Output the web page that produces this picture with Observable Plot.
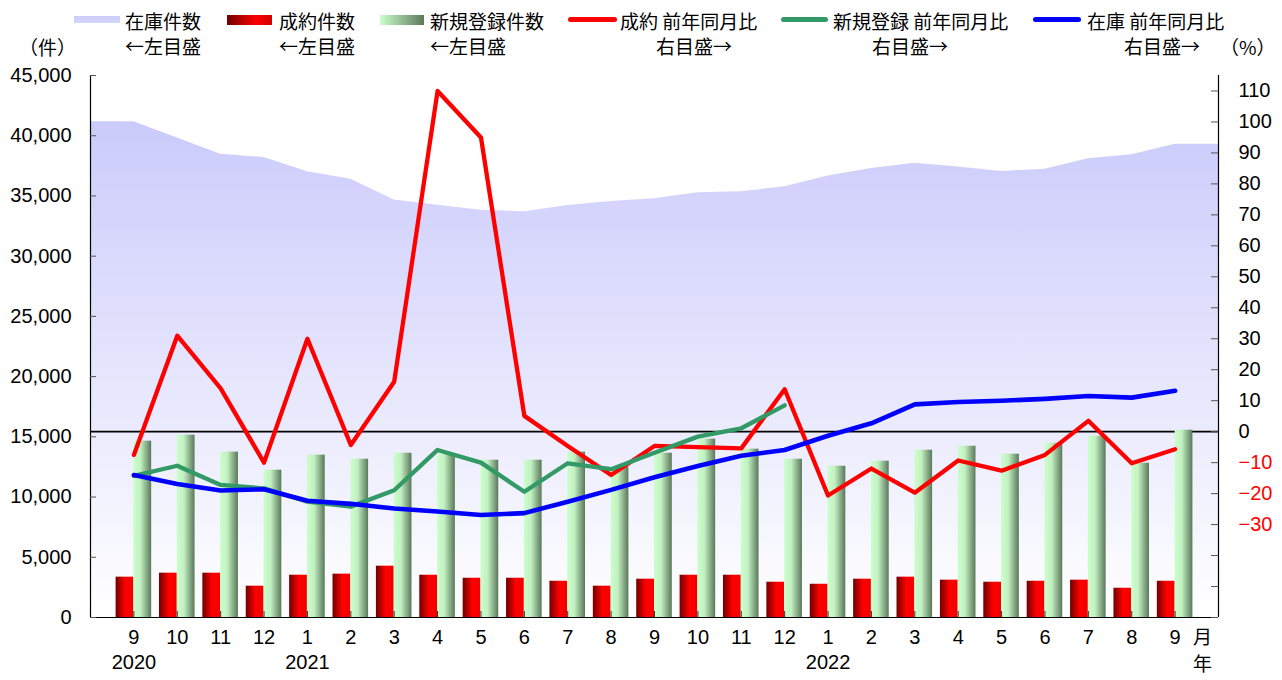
<!DOCTYPE html>
<html><head><meta charset="utf-8">
<script src="https://cdn.jsdelivr.net/npm/d3@7"></script>
<script src="https://cdn.jsdelivr.net/npm/@observablehq/plot@0.6"></script>
<style>
body{margin:0;background:#fff;font-family:"Noto Sans CJK JP",sans-serif;}
#wrap{position:relative;width:1282px;height:680px;overflow:hidden;}
#legend{position:absolute;left:0;top:0;width:1282px;height:70px;font-size:19px;color:#000;z-index:2;}
#legend .t{position:absolute;white-space:nowrap;line-height:1;}
#legend .sw{position:absolute;}
</style></head><body>
<div id="wrap"></div>
<script>
// ---- data ----
const months = ["9","10","11","12","1","2","3","4","5","6","7","8","9","10","11","12","1","2","3","4","5","6","7","8","9"];
const yearLabels = ["2020","2021","2022"];
const yearIndex = [0, 4, 16];
const stock = [41150,39820,38470,38190,37000,36390,34660,34230,33820,33680,34200,34540,34760,35260,35340,35760,36660,37280,37720,37410,37030,37220,38080,38410,39300];
const contracts = [3350,3680,3680,2600,3510,3600,4260,3510,3260,3260,3010,2600,3180,3510,3510,2930,2760,3180,3350,3100,2930,3010,3100,2430,3010];
const newListings = [14640,15140,13730,12230,13480,13140,13640,13560,13060,13060,13730,12480,13640,14810,13980,13140,12560,12980,13890,14220,13560,14470,15050,12810,15550];
const contractYoY = [-7.5,31,14.0,-10.0,30,-4.3,16.1,110,95,5.1,-4.6,-14.0,-4.6,-5.0,-5.4,13.7,-20.6,-11.9,-19.7,-9.3,-12.6,-7.5,3.5,-10.2,-5.7];
const newYoY = [-14.3,-11.0,-17.2,-18.3,-22.6,-24.2,-18.9,-5.9,-10.0,-19.4,-10.2,-12.1,-6.8,-1.6,1.1,8.5];
const stockYoY = [-14.0,-16.9,-19.0,-18.6,-22.3,-23.3,-24.8,-25.8,-26.9,-26.3,-22.6,-18.8,-14.7,-11.1,-7.8,-5.9,-1.3,2.7,8.8,9.6,10.0,10.6,11.5,11.0,13.2];
const leftTicks = [0,5000,10000,15000,20000,25000,30000,35000,40000,45000];
const rightTicks = [-60,-50,-40,-30,-20,-10,0,10,20,30,40,50,60,70,80,90,100,110];
const rightLabelsPos = [0,10,20,30,40,50,60,70,80,90,100,110];
const rightLabelsNeg = [-30,-20,-10];

// ---- layout ----
const W = 1282, H = 680, ML = 90, MR = 64, MT = 75, MB = 63;
const LMAX = 45000, RMIN = -60, RMAX = 115;
const BW = 0.41;
const innerW = W - ML - MR, innerH = H - MT - MB;
const toLeft = r => (r - RMIN) / (RMAX - RMIN) * LMAX;
const fromLeft = v => v / LMAX * (RMAX - RMIN) + RMIN;
const fmtR = v => { const r = Math.round(fromLeft(v)); return r < 0 ? "\u2212" + (-r) : String(r); };

const rows = months.map((m, i) => ({i, m, stock: stock[i], c: contracts[i], n: newListings[i], cy: contractYoY[i], sy: stockYoY[i]}));
const areaRows = [{i: -1, stock: stock[0]}, ...rows, {i: months.length, stock: stock[stock.length - 1]}];
const newRows = newYoY.map((v, i) => ({i, v}));
const yearRows = yearLabels.map((label, k) => ({i: yearIndex[k], label}));

const NUMFONT = "'Liberation Sans', Arial, sans-serif";
const CJKFONT = "'Noto Sans CJK JP', sans-serif";

const svg = Plot.plot({
  width: W, height: H, marginLeft: ML, marginRight: MR, marginTop: MT, marginBottom: MB,
  style: {fontFamily: NUMFONT, fontSize: "20px", color: "#000", background: "transparent", overflow: "visible"},
  x: {type: "linear", domain: [-1, months.length], axis: null},
  y: {domain: [0, LMAX], axis: null},
  marks: [
    Plot.areaY(areaRows, {x: "i", y: "stock", fill: "url(#gStock)", curve: "linear"}),
    Plot.ruleY([toLeft(0)], {stroke: "#000", strokeWidth: 1.6}),
    Plot.rectY(rows, {x1: d => d.i - BW, x2: d => d.i, y: "c", fill: "url(#gRed)"}),
    Plot.rectY(rows, {x1: d => d.i, x2: d => d.i + BW, y: "n", fill: "url(#gGreen)"}),
    Plot.ruleX(rows, {x: "i", insetTop: innerH - 6, stroke: "#333", strokeWidth: 1}),
    Plot.line(rows, {x: "i", y: d => toLeft(d.cy), stroke: "#FF0000", strokeWidth: 4.3}),
    Plot.line(newRows, {x: "i", y: d => toLeft(d.v), stroke: "#339966", strokeWidth: 4.3}),
    Plot.line(rows, {x: "i", y: d => toLeft(d.sy), stroke: "#0000FF", strokeWidth: 4.6}),
    Plot.ruleX([-1], {stroke: "#000", strokeWidth: 1.2}),
    Plot.ruleX([months.length], {stroke: "#000", strokeWidth: 1.2}),
    Plot.ruleY([0], {stroke: "#000", strokeWidth: 1.2}),
    Plot.ruleY(leftTicks, {y: d => d, insetRight: innerW - 6, stroke: "#555"}),
    Plot.ruleY(rightTicks, {y: d => toLeft(d), insetLeft: innerW - 7, stroke: "#555"}),
    Plot.axisY(leftTicks, {anchor: "left", tickSize: 0, tickPadding: 19, label: null, fontSize: 20, tickFormat: d3.format(",")}),
    Plot.axisY(rightLabelsPos.map(toLeft), {anchor: "right", tickSize: 0, tickPadding: 20, label: null, fontSize: 20, tickFormat: fmtR}),
    Plot.axisY(rightLabelsNeg.map(toLeft), {anchor: "right", tickSize: 0, tickPadding: 20, label: null, fontSize: 20, fill: "#FF0000", tickFormat: fmtR}),
    Plot.text(rows, {x: "i", text: "m", frameAnchor: "bottom", dy: 26, fontSize: 20, fill: "#000"}),
    Plot.text(yearRows, {x: "i", text: "label", frameAnchor: "bottom", dy: 51, fontSize: 20, fill: "#000"}),
    Plot.text(["月"], {frameAnchor: "bottom-right", textAnchor: "middle", dx: -16, dy: 26, fontSize: 19, fontFamily: CJKFONT, fill: "#000"}),
    Plot.text(["年"], {frameAnchor: "bottom-right", textAnchor: "middle", dx: -16, dy: 53, fontSize: 19, fontFamily: CJKFONT, fill: "#000"})
  ]
});

// gradients
const defs = d3.select(svg).insert("defs", ":first-child");
function grad(id, x2, y2, stops) {
  const g = defs.append("linearGradient").attr("id", id).attr("x1", 0).attr("y1", 0).attr("x2", x2).attr("y2", y2);
  stops.forEach(([o, c]) => g.append("stop").attr("offset", o).attr("stop-color", c));
}
grad("gStock", 0, 1, [[0, "#CBCBFB"], [1, "#FFFFFF"]]);
grad("gRed", 1, 0, [[0, "#700000"], [0.55, "#FF0000"], [1, "#F20000"]]);
grad("gGreen", 1, 0, [[0, "#CCFFCC"], [0.4, "#C2F0C2"], [1, "#5A785A"]]);

const wrap = document.getElementById("wrap");
wrap.appendChild(svg);

// legend
const legendItems = [
  {sw: "rect", x: 74, w: 46, top: 16, h: 7, bg: "linear-gradient(#CCCCFF,#D4D4FB)", l1: "在庫件数", x1: 125, l2: "←左目盛", x2: 125},
  {sw: "rect", x: 227, w: 45, top: 15, h: 10, bg: "linear-gradient(to right,#700000,#FF0000 65%,#D00000)", l1: "成約件数", x1: 279, l2: "←左目盛", x2: 279},
  {sw: "rect", x: 380, w: 44, top: 15, h: 10, bg: "linear-gradient(to right,#CCFFCC,#5A785A)", l1: "新規登録件数", x1: 430, l2: "←左目盛", x2: 430},
  {sw: "line", x: 568, w: 49, top: 17, h: 4.5, bg: "#FF0000", l1: "成約 前年同月比", x1: 620, l2: "右目盛→", x2: 656},
  {sw: "line", x: 781, w: 47, top: 17, h: 4.5, bg: "#339966", l1: "新規登録 前年同月比", x1: 833, l2: "右目盛→", x2: 872},
  {sw: "line", x: 1033, w: 48, top: 17, h: 5, bg: "#0000FF", l1: "在庫 前年同月比", x1: 1087, l2: "右目盛→", x2: 1124}
];
const legend = document.createElement("div");
legend.id = "legend";
let html = "";
for (const it of legendItems) {
  const rad = it.sw === "line" ? "border-radius:3px;" : "";
  html += `<div class="sw" style="left:${it.x}px;top:${it.top}px;width:${it.w}px;height:${it.h}px;background:${it.bg};${rad}"></div>`;
  html += `<div class="t" style="left:${it.x1}px;top:11px;">${it.l1}</div>`;
  html += `<div class="t" style="left:${it.x2}px;top:36px;">${it.l2}</div>`;
}
html += `<div class="t" style="left:19px;top:37px;">（件）</div>`;
html += `<div class="t" style="left:1220px;top:37px;">（%）</div>`;
legend.innerHTML = html;
wrap.appendChild(legend);
</script>
</body></html>
